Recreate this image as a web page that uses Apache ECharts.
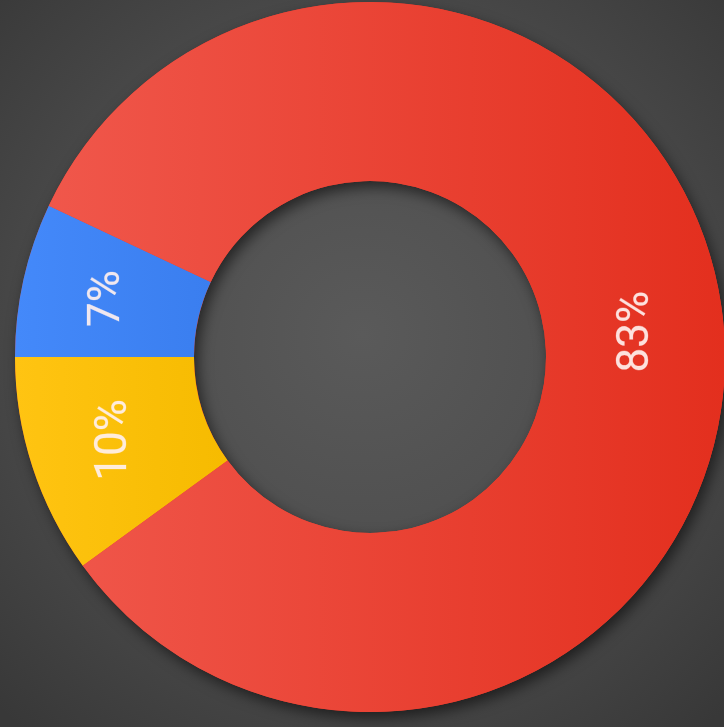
<!DOCTYPE html>
<html>
<head>
<meta charset="utf-8">
<script src="https://cdn.jsdelivr.net/npm/echarts@6/dist/echarts.min.js"></script>
<style>
html,body{margin:0;padding:0;background:#474747;}
#chart{width:724px;height:727px;}
</style>
</head>
<body>
<div id="chart"></div>
<script>
const categories = ['Yellow', 'Blue', 'Red'];
const values = [10, 7, 83];
const colorStops = [
  ['#ffc412', '#f6bb00'],
  ['#4489fa', '#3a7eef'],
  ['#f0574b', '#e32f1e']
];

const chart = echarts.init(document.getElementById('chart'), null, {renderer: 'canvas'});
const grad = (c) => new echarts.graphic.LinearGradient(0, 0, 1, 0, [
  {offset: 0, color: c[0]}, {offset: 1, color: c[1]}
]);
const total = values.reduce((a, b) => a + b, 0);
chart.setOption({
  backgroundColor: new echarts.graphic.RadialGradient(0.5, 0.46, 0.72, [
    {offset: 0, color: '#5a5a5a'},
    {offset: 0.55, color: '#4c4c4c'},
    {offset: 1, color: '#383838'}
  ]),
  animation: false,
  series: [{
    // shadow backing ring
    type: 'pie',
    silent: true,
    center: [370, 357],
    radius: [176, 355],
    startAngle: 216,
    label: {show: false},
    labelLine: {show: false},
    emphasis: {disabled: true},
    itemStyle: {
      color: '#e63a2c',
      shadowBlur: 14,
      shadowOffsetX: 4,
      shadowOffsetY: 6,
      shadowColor: 'rgba(0,0,0,0.55)'
    },
    data: [{name: 'ring', value: total}]
  }, {
    type: 'pie',
    center: [370, 357],
    radius: [176, 355],
    startAngle: 216,
    clockwise: true,
    avoidLabelOverlap: false,
    label: {
      show: true,
      position: 'inside',
      rotate: 90,
      formatter: '{c}%',
      color: 'rgba(255,240,238,0.92)',
      fontFamily: 'Roboto',
      fontSize: 44,
      fontWeight: 'normal',
      textBorderColor: 'rgba(255,240,238,0.35)',
      textBorderWidth: 0.6
    },
    labelLine: {show: false},
    emphasis: {disabled: true},
    data: categories.map((n, i) => ({
      name: n,
      value: values[i],
      itemStyle: {color: grad(colorStops[i])}
    }))
  }]
});
</script>
</body>
</html>
